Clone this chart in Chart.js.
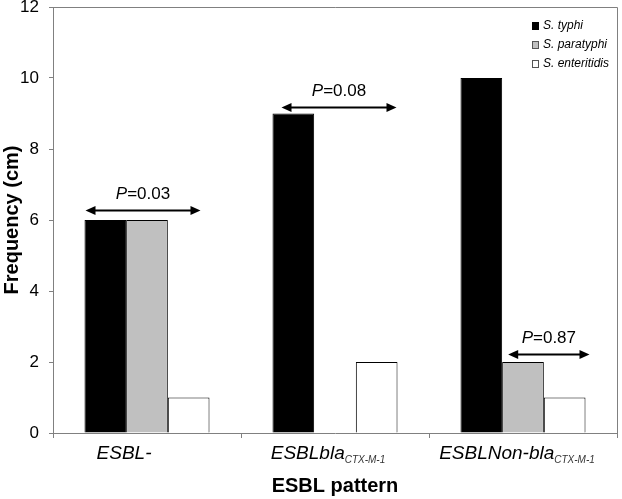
<!DOCTYPE html>
<html><head><meta charset="utf-8">
<script src="https://cdn.jsdelivr.net/npm/chart.js@4/dist/chart.umd.min.js"></script>
<style>html,body{margin:0;padding:0;background:#fff}#w{width:622px;height:499px}</style>
</head><body><div id="w"><canvas id="c"></canvas></div>
<script>
const categories = ['ESBL-', 'ESBLbla', 'ESBLNon-bla'];
const categorySubscripts = ['', 'CTX-M-1', 'CTX-M-1'];
const seriesNames = ['S. typhi', 'S. paratyphi', 'S. enteritidis'];
const typhi = [6, 9, 10];
const paratyphi = [6, 0, 2];
const enteritidis = [1, 2, 1];
const yTicks = [0, 2, 4, 6, 8, 10, 12];
// P-value annotations
const pLabels = ['P=0.03', 'P=0.08', 'P=0.87'];
const pLevels = [6.28, 9.17, 2.23];
const pCategory = [0, 1, 2];
const pFirstSeries = [0, 0, 1];

const FONT = "'Liberation Sans', Arial, sans-serif";
const colors = ['#000000', '#c0c0c0', '#ffffff'];
const labelShift = [-23, -7, -6];
const arrowInset = [[1, -9], [9, -1], [6, 4]];

const annotPlugin = {
  id: 'annot',
  afterDraw(chart) {
    const ctx = chart.ctx, x = chart.scales.x, y = chart.scales.y, a = chart.chartArea;
    ctx.save();
    ctx.strokeStyle = '#808080'; ctx.lineWidth = 1;
    ctx.beginPath();
    ctx.moveTo(a.left, a.top + 0.5); ctx.lineTo(a.right + 0.5, a.top + 0.5); ctx.lineTo(a.right + 0.5, a.bottom);
    ctx.stroke();
    categories.forEach((c, i) => {
      const px = x.getPixelForValue(i) + labelShift[i];
      ctx.font = "italic 19px " + FONT;
      const w1 = ctx.measureText(c).width;
      ctx.font = "italic 10px " + FONT;
      const w2 = categorySubscripts[i] ? ctx.measureText(categorySubscripts[i]).width : 0;
      const x0 = px - (w1 + w2) / 2;
      ctx.fillStyle = '#000';
      ctx.textBaseline = 'alphabetic'; ctx.textAlign = 'left';
      ctx.font = "italic 19px " + FONT;
      ctx.fillText(c, x0, a.bottom + 26);
      if (categorySubscripts[i]) {
        ctx.font = "italic 10px " + FONT;
        ctx.fillStyle = '#333';
        ctx.fillText(categorySubscripts[i], x0 + w1, a.bottom + 30);
      }
    });
    pLabels.forEach((lab, k) => {
      const ci = pCategory[k];
      const s = chart.getDatasetMeta(pFirstSeries[k]).data[ci];
      const e = chart.getDatasetMeta(2).data[ci];
      const x1 = s.x - s.width / 2 + arrowInset[k][0];
      const x2 = e.x + e.width / 2 + arrowInset[k][1];
      const py = Math.round(y.getPixelForValue(pLevels[k])) + 0.5;
      ctx.strokeStyle = '#000'; ctx.fillStyle = '#000'; ctx.lineWidth = 2;
      ctx.beginPath(); ctx.moveTo(x1 + 6, py); ctx.lineTo(x2 - 6, py); ctx.stroke();
      [[x1, 1], [x2, -1]].forEach(([hx, d]) => {
        ctx.beginPath(); ctx.moveTo(hx, py); ctx.lineTo(hx + d * 10, py - 4.5); ctx.lineTo(hx + d * 10, py + 4.5); ctx.closePath(); ctx.fill();
      });
      const cx = (x1 + x2) / 2;
      const rest = lab.slice(1);
      ctx.font = "italic 17px " + FONT; const wp = ctx.measureText('P').width;
      ctx.font = "17px " + FONT; const wr = ctx.measureText(rest).width;
      const sx = cx - (wp + wr) / 2;
      ctx.textAlign = 'left'; ctx.textBaseline = 'middle';
      ctx.font = "italic 17px " + FONT; ctx.fillText('P', sx, py - 16);
      ctx.font = "17px " + FONT; ctx.fillText(rest, sx + wp, py - 16);
    });
    seriesNames.forEach((n, i) => {
      const lx = 532, ly = 26 + i * 19;
      ctx.fillStyle = colors[i]; ctx.fillRect(lx, ly - 4, 7, 8);
      ctx.strokeStyle = i === 0 ? '#000' : '#555'; ctx.lineWidth = 1;
      ctx.strokeRect(lx + 0.5, ly - 3.5, 6, 7);
      ctx.fillStyle = '#000'; ctx.font = "italic 12px " + FONT;
      ctx.textBaseline = 'middle'; ctx.textAlign = 'left';
      ctx.fillText(n, lx + 11, ly);
    });
    ctx.restore();
  }
};

new Chart(document.getElementById('c'), {
  type: 'bar',
  data: {
    labels: categories,
    datasets: [typhi, paratyphi, enteritidis].map((d, i) => ({
      label: seriesNames[i], data: d, backgroundColor: colors[i],
      borderColor: '#000', borderWidth: 1,
      categoryPercentage: 0.665, barPercentage: 1.0
    }))
  },
  options: {
    responsive: true, maintainAspectRatio: false, animation: false,
    layout: { padding: { top: 7, right: 5, left: 0, bottom: 0 } },
    plugins: { legend: { display: false }, tooltip: { enabled: false } },
    scales: {
      x: {
        grid: { display: true, drawOnChartArea: false, offset: true, tickLength: 5, color: '#808080' },
        border: { color: '#808080' },
        ticks: { callback: () => '', font: { size: 1 } },
        title: { display: true, text: 'ESBL pattern', font: { family: FONT, size: 20, weight: 'bold' }, color: '#000', padding: { top: 0, bottom: 1 } },
        afterFit(s) { s.height = 66; s.paddingLeft = 0; s.paddingRight = 0; }
      },
      y: {
        min: 0, max: 12,
        afterBuildTicks(s) { s.ticks = yTicks.map(v => ({ value: v })); },
        grid: { display: true, drawOnChartArea: false, tickLength: 4, color: '#808080' },
        border: { color: '#808080' },
        ticks: { font: { family: FONT, size: 17 }, color: '#000', padding: 10 },
        title: { display: true, text: 'Frequency (cm)', font: { family: FONT, size: 20, weight: 'bold' }, color: '#000', padding: { top: 0, bottom: 2 } },
        afterFit(s) { s.width = 53; s.paddingTop = 0; s.paddingBottom = 0; }
      }
    }
  },
  plugins: [annotPlugin]
});
</script></body></html>
